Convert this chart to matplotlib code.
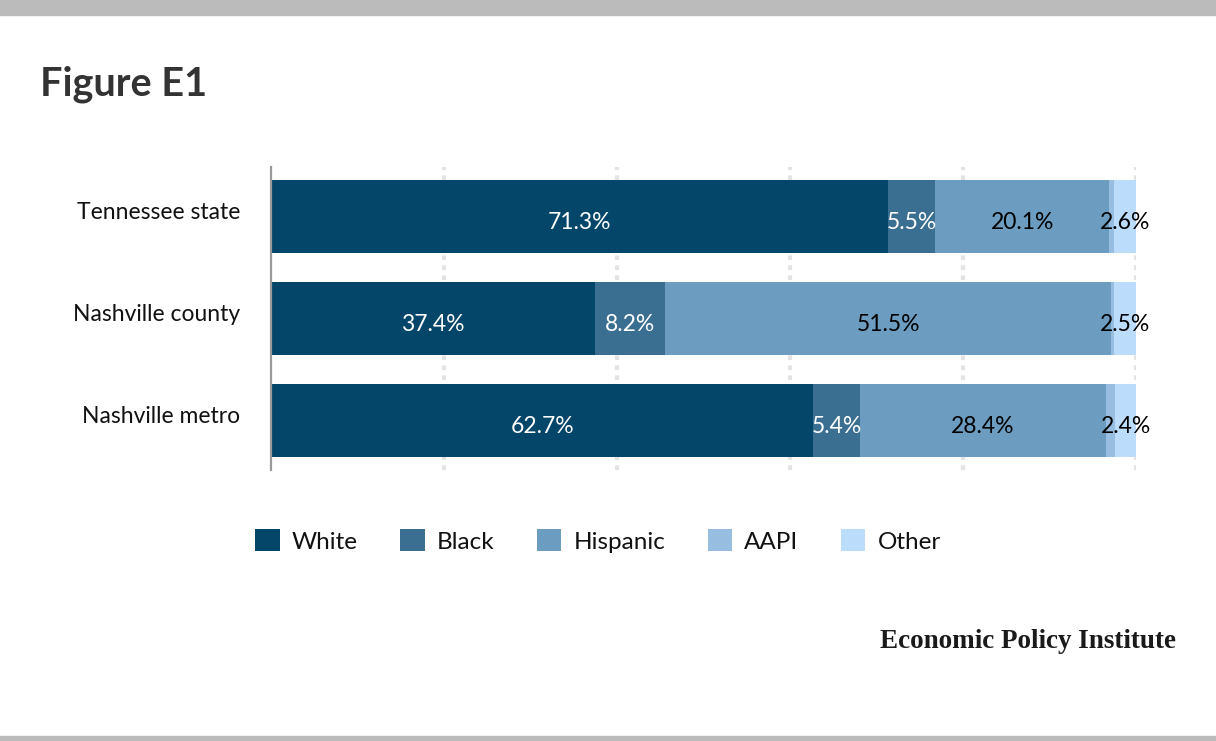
import matplotlib
matplotlib.use("Agg")
import matplotlib.pyplot as plt
import matplotlib.transforms as mtransforms
import numpy as np

categories = ["Tennessee state", "Nashville county", "Nashville metro"]
series_names = ["White", "Black", "Hispanic", "AAPI", "Other"]
white = [71.3, 37.4, 62.7]
black = [5.5, 8.2, 5.4]
hispanic = [20.1, 51.5, 28.4]
aapi = [0.5, 0.4, 1.1]
other = [2.6, 2.5, 2.4]
values = [white, black, hispanic, aapi, other]
colors = ["#03466a", "#3a6f92", "#6c9dc0", "#97bde0", "#bcdcfb"]
label_colors = ["white", "white", "black", None, "black"]
xticks = [0, 20, 40, 60, 80, 100]

plt.rcParams['font.family'] = ['Lato', 'DejaVu Sans']

fig = plt.figure(figsize=(12.16, 7.41), dpi=100)
fig.patch.set_facecolor("white")

# top and bottom bands
fig.patches.append(plt.Rectangle((0, 1 - 15/741), 1, 15/741, transform=fig.transFigure,
                                 color="#bbbbbb", zorder=0))
fig.patches.append(plt.Rectangle((0, 0), 1, 5/741, transform=fig.transFigure,
                                 color="#bbbbbb", zorder=0))

fig.text(40/1216, 1 - 84/741, "Figure E1", fontsize=28.5, fontweight="bold",
         color="#333333", va="center", ha="left")

ax = fig.add_axes([271/1216, 1 - 470/741, (1136 - 271)/1216, (470 - 167)/741])
y = np.arange(len(categories))
left = np.zeros(len(categories))
for name, vals, col, lc in zip(series_names, values, colors, label_colors):
    vals = np.array(vals)
    ax.barh(y, vals, left=left, height=0.72, color=col, label=name, zorder=3)
    if lc is not None:
        for yi, (l, v) in enumerate(zip(left, vals)):
            ax.text(l + v / 2, yi + 0.06, f"{v:.1f}%", ha="center", va="center",
                    color=lc, fontsize=16.5, zorder=4)
    left = left + vals

ax.set_xlim(0, 100)
ax.set_ylim(2.485, -0.485)
ax.set_yticks(y)
ax.set_yticklabels(categories, fontsize=16.5, color="#111111")
ax.tick_params(axis="y", length=0, pad=22)
offset = mtransforms.ScaledTranslation(0, 6/100, fig.dpi_scale_trans)
for lab in ax.get_yticklabels():
    lab.set_transform(lab.get_transform() + offset)
ax.set_xticks(xticks)
ax.tick_params(axis="x", length=0, labelbottom=False)
for xt in xticks[1:]:
    ax.axvline(xt, color="#e3e3e3", lw=3, linestyle=(0, (1.1, 1.3)), zorder=1)
for s in ["top", "right", "bottom"]:
    ax.spines[s].set_visible(False)
ax.spines["left"].set_color("#999999")
ax.spines["left"].set_linewidth(1.6)
ax.spines["left"].set_zorder(5)

handles, labels = ax.get_legend_handles_labels()
fig.legend(handles, labels, loc="center", bbox_to_anchor=(598/1216, 1 - 541/741),
           ncol=5, frameon=False, fontsize=17.5, handlelength=1.0, handleheight=1.0,
           handletextpad=0.5, columnspacing=1.75, labelcolor="#111111")

fig.text(1176/1216, 1 - 642/741, "Economic Policy Institute", fontsize=19.5,
         fontweight="bold", family=["Liberation Serif", "DejaVu Serif"],
         color="#1a1a1a", ha="right", va="center")

fig.savefig("out.png", dpi=100, facecolor="white")
